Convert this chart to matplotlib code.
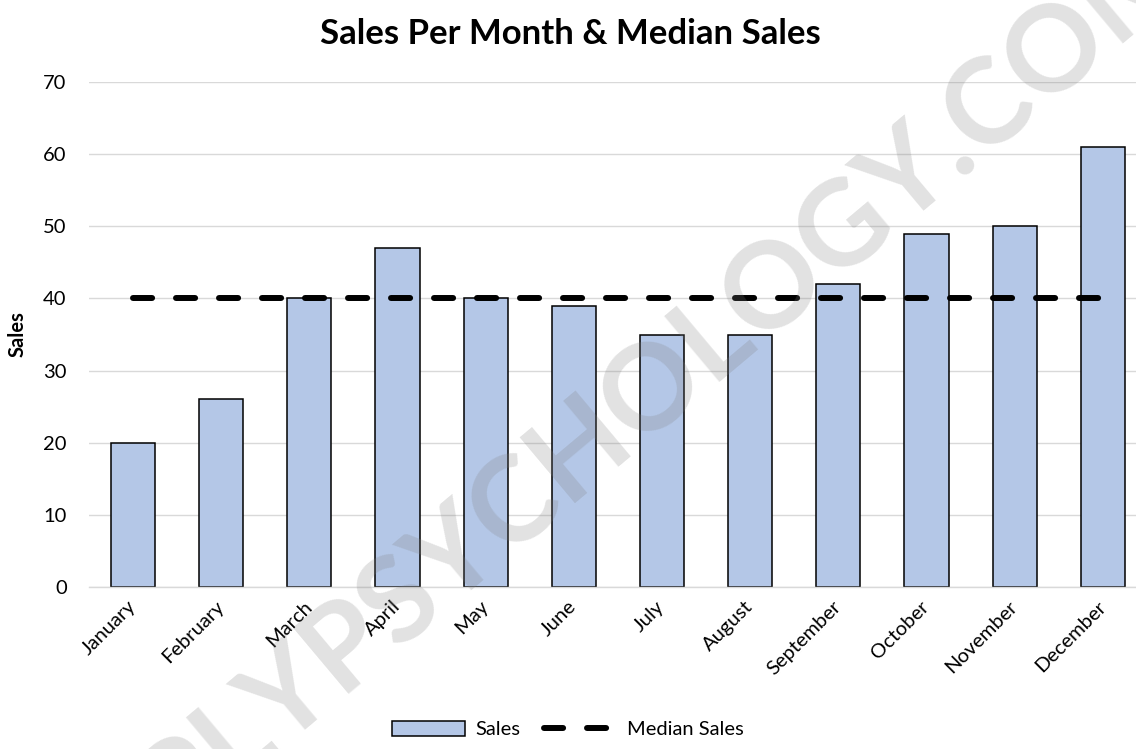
import matplotlib
matplotlib.use("Agg")
import matplotlib.pyplot as plt
import numpy as np

# -----------------------
# data
months = ['January', 'February', 'March', 'April', 'May', 'June',
          'July', 'August', 'September', 'October', 'November', 'December']
sales = [20, 26, 40, 47, 40, 39, 35, 35, 42, 49, 50, 61]
median_sales = [40] * 12
y_ticks = [0, 10, 20, 30, 40, 50, 60, 70]
# -----------------------

plt.rcParams['font.family'] = ['Lato', 'DejaVu Sans']

bar_color = '#B4C7E7'
grid_color = '#D9D9D9'

fig = plt.figure(figsize=(11.36, 7.49), dpi=100)
ax = fig.add_axes([0.0783, 0.2163, 0.9313, 0.6742])

x = np.arange(len(months))
bars = ax.bar(x, sales, width=0.5, color=bar_color, edgecolor='black',
              linewidth=1.1, label='Sales', zorder=2)
line, = ax.plot(x, median_sales, color='black', linewidth=4.3, dashes=(3.2, 4.0),
                dash_capstyle='round', label='Median Sales', zorder=3)

ax.set_xlim(-0.5, 11.5)
ax.set_ylim(0, 70)
ax.set_yticks(y_ticks)
ax.set_xticks(x)
ax.set_xticklabels(months, rotation=45, ha='right', rotation_mode='anchor',
                   va='center')
ax.tick_params(axis='both', length=0, labelsize=14.5)
ax.tick_params(axis='y', pad=16)
ax.tick_params(axis='x', pad=12)

ax.grid(axis='y', color=grid_color, linewidth=1.0, zorder=0)
ax.set_axisbelow(True)
for s in ['top', 'right', 'left']:
    ax.spines[s].set_visible(False)
ax.spines['bottom'].set_color(grid_color)
ax.spines['bottom'].set_linewidth(1.0)

ax.set_ylabel('Sales', fontsize=14.5, fontweight='bold')
ax.yaxis.set_label_coords(-0.058, 0.5)

fig.text(0.502, 0.955, 'Sales Per Month & Median Sales', ha='center',
         va='center', fontsize=25, fontweight='bold')

fig.legend([bars, line], ['Sales', 'Median Sales'], loc='lower center',
           bbox_to_anchor=(0.5, -0.01), ncol=2, frameon=False, fontsize=14.5,
           handlelength=3.6, handleheight=0.8, columnspacing=1.2,
           handletextpad=0.5)

# watermark
fig.text(0.516, 0.403, 'SIMPLYPSYCHOLOGY.COM', rotation=40, ha='center',
         va='center', rotation_mode='anchor', fontsize=86, fontweight='bold',
         color='gray', alpha=0.23, zorder=10)

fig.savefig('out.png', dpi=100)
